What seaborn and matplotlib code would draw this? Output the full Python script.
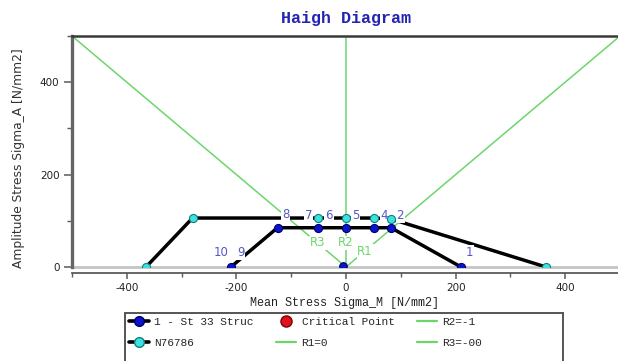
import matplotlib
matplotlib.use("Agg")
import matplotlib.pyplot as plt
from matplotlib.lines import Line2D
from matplotlib.patches import Rectangle
from matplotlib.ticker import MultipleLocator
import seaborn as sns
import pandas as pd

# Haigh curve of material "1 - St 33 Struc" (mean stress, amplitude) in N/mm2
st33_mean = [210, 82, 51, 0, -51, -125, -210]
st33_amp = [0, 85, 85, 85, 85, 85, 0]

# Haigh curve "N76786"
n76_mean = [365, 82, 51, 0, -51, -280, -365]
n76_amp = [0, 104, 106, 106, 106, 106, 0]

# load point close to the origin
load_mean = [-5]
load_amp = [2]

# stress ratio rays
r1_mean, r1_amp = [0, 500], [0, 500]     # R1 = 0
r2_mean, r2_amp = [0, 0], [0, 500]       # R2 = -1
r3_mean, r3_amp = [0, -500], [0, 500]    # R3 = -oo

ray_names = ["R1", "R2", "R3"]
ray_name_mean = [35, 0, -51]
ray_name_amp = [34, 52, 52]

point_names = ["1", "2", "4", "5", "6", "7", "8", "9", "10"]
point_name_mean = [226, 99, 70, 18, -31, -68, -110, -192, -228]
point_name_amp = [32, 112, 112, 112, 112, 112, 114, 32, 32]

x_ticks = [-400, -200, 0, 200, 400]
y_ticks = [0, 200, 400]

BLUE = "#0a14c8"
BLUE_EDGE = "#00006e"
CYAN = "#3ee0e0"
CYAN_EDGE = "#108080"
GREEN = "#6cd66c"
LABEL_BLUE = "#5656c8"

sns.set_style("white")
plt.rcParams["font.family"] = ["DejaVu Sans"]
plt.rcParams["axes.unicode_minus"] = False
MONO = "Liberation Mono"

W, H = 618, 361
fig = plt.figure(figsize=(W / 100, H / 100), dpi=100)
ax = fig.add_axes([72 / W, 94 / H, 548 / W, 231 / H])

# stress ratio rays
for xs, ys in [(r1_mean, r1_amp), (r2_mean, r2_amp), (r3_mean, r3_amp)]:
    sns.lineplot(x=xs, y=ys, sort=False, estimator=None, color=GREEN,
                 lw=1.1, ax=ax, legend=False, zorder=1)

# Haigh curves
curves = [
    (pd.DataFrame({"mean": st33_mean, "amp": st33_amp}), BLUE, BLUE_EDGE),
    (pd.DataFrame({"mean": n76_mean, "amp": n76_amp}), CYAN, CYAN_EDGE),
]
for df, fc, ec in curves:
    sns.lineplot(data=df, x="mean", y="amp", sort=False, estimator=None,
                 color="black", lw=2.5, ax=ax, legend=False, zorder=2)
for df, fc, ec in curves:
    sns.scatterplot(data=df, x="mean", y="amp", color=fc, edgecolor=ec,
                    linewidth=0.8, s=34, ax=ax, legend=False, zorder=5)
sns.scatterplot(x=load_mean, y=load_amp, color=BLUE, edgecolor=BLUE_EDGE,
                linewidth=0.8, s=30, ax=ax, legend=False, zorder=5)

box = dict(facecolor="white", edgecolor="none", pad=0.6)
for name, xm, ya in zip(ray_names, ray_name_mean, ray_name_amp):
    ax.text(xm, ya, name, color=GREEN, fontsize=8.5, ha="center", va="center",
            bbox=box, zorder=3)
for name, xm, ya in zip(point_names, point_name_mean, point_name_amp):
    ax.text(xm, ya, name, color=LABEL_BLUE, fontsize=8.5, ha="center",
            va="center", bbox=box, zorder=3)

# plot-area floor line
ax.axhline(0, color="#c4c4c4", lw=2, zorder=1.5, clip_on=False)

ax.set_xlim(-500, 500)
ax.set_ylim(0, 500)
ax.set_xticks(x_ticks)
ax.set_yticks(y_ticks)
ax.xaxis.set_minor_locator(MultipleLocator(100))
ax.yaxis.set_minor_locator(MultipleLocator(100))

for side in ["left", "top", "bottom", "right"]:
    ax.spines[side].set_visible(True)
ax.spines["left"].set_color("#666666")
ax.spines["left"].set_linewidth(2.4)
ax.spines["top"].set_color("#3a3a3a")
ax.spines["top"].set_linewidth(1.8)
ax.spines["right"].set_color("#3a3a3a")
ax.spines["bottom"].set_color("#5a5a5a")
ax.spines["bottom"].set_linewidth(1.3)
ax.spines["bottom"].set_position(("outward", 4))

ax.tick_params(axis="x", which="major", length=4.5, width=1.1, color="#5a5a5a",
               labelsize=7.5, pad=3, bottom=True, direction="out")
ax.tick_params(axis="x", which="minor", length=3, width=1.0, color="#5a5a5a",
               bottom=True, direction="out")
ax.tick_params(axis="y", which="major", length=6, width=1.1, color="#5a5a5a",
               labelsize=7.5, pad=3, left=True, direction="out")
ax.tick_params(axis="y", which="minor", length=3.5, width=1.0, color="#5a5a5a",
               left=True, direction="out")
for lab in ax.get_xticklabels() + ax.get_yticklabels():
    lab.set_color("#222222")

ax.set_xlabel("Mean Stress Sigma_M [N/mm2]", fontfamily=MONO, fontsize=8.5,
              color="#222222")
ax.xaxis.set_label_coords(0.498, -0.13)
ax.set_ylabel("Amplitude Stress Sigma_A [N/mm2]", fontsize=8.8, color="#333333")
ax.yaxis.set_label_coords(-0.086, 0.47)

fig.text(346 / W, 1 - 18 / H, "Haigh Diagram", ha="center", va="center",
         fontfamily=MONO, fontweight="bold", fontsize=12, color="#2323b4")

# legend
handles = [
    Line2D([], [], color="black", lw=2.6, marker="o", markersize=7,
           markerfacecolor=BLUE, markeredgecolor=BLUE_EDGE),
    Line2D([], [], color="black", lw=2.6, marker="o", markersize=7,
           markerfacecolor=CYAN, markeredgecolor=CYAN_EDGE),
    Line2D([], [], lw=0, marker="o", markersize=8,
           markerfacecolor="#e0101e", markeredgecolor="#800000"),
    Line2D([], [], color=GREEN, lw=1.6),
    Line2D([], [], color=GREEN, lw=1.6),
    Line2D([], [], color=GREEN, lw=1.6),
]
labels = ["1 - St 33 Struc", "N76786", "Critical Point", "R1=0", "R2=-1", "R3=-00"]
fig.legend(handles, labels, ncol=3, loc="upper left",
           bbox_to_anchor=(125 / W, 1 - 313 / H), frameon=False,
           prop={"family": MONO, "size": 8}, handlelength=1.8,
           handletextpad=0.5, columnspacing=2.0, labelspacing=1.0,
           borderpad=0.35, borderaxespad=0)
fig.patches.append(Rectangle((125 / W, -0.05), (563 - 125) / W, 0.05 + (H - 313) / H,
                             transform=fig.transFigure, fill=False,
                             edgecolor="#555555", lw=1.4))

fig.savefig("out.png", dpi=100)
